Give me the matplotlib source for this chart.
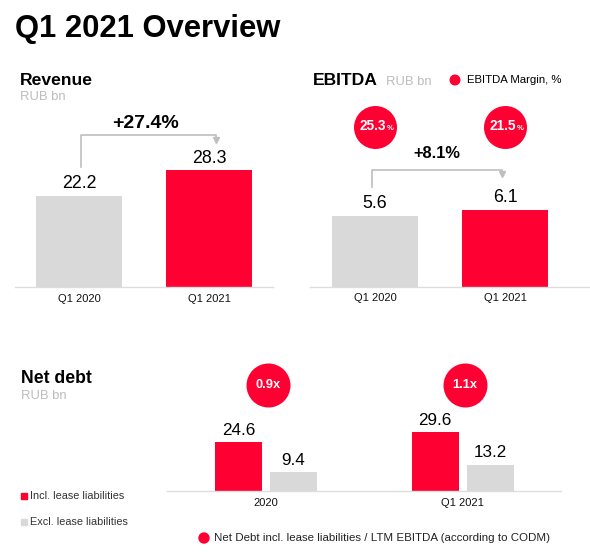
import matplotlib
matplotlib.use('Agg')
import matplotlib.pyplot as plt
import matplotlib.transforms as mtransforms

plt.rcParams['font.family'] = ['Liberation Sans', 'DejaVu Sans']

W, H = 590, 553
RED = '#FF0032'
GRAY = '#D9D9D9'
SUB = '#BDBDBD'
LINE = '#BFBFBF'
AXIS = '#DDDDDD'

# ---------------- data ----------------
rev_categories = ['Q1 2020', 'Q1 2021']
rev_values = [22.2, 28.3]
rev_growth = '+27.4%'

ebitda_categories = ['Q1 2020', 'Q1 2021']
ebitda_values = [5.6, 6.1]
ebitda_margin = ['25.3', '21.5']
ebitda_growth = '+8.1%'

debt_categories = ['2020', 'Q1 2021']
debt_incl = [24.6, 29.6]
debt_excl = [9.4, 13.2]
debt_ratio = ['0.9x', '1.1x']

# ---------------- figure ----------------
fig = plt.figure(figsize=(W / 100, H / 100), dpi=100)
P = mtransforms.Affine2D().scale(1, -1).translate(0, H)  # pixel coords, origin top-left


def off(tr, dx, dy):
    """shift transform by dx, dy pixels (dy positive = down)"""
    return tr + mtransforms.ScaledTranslation(dx / 100, -dy / 100, fig.dpi_scale_trans)


def add_axes_px(left, right, base, top):
    return fig.add_axes([left / W, 1 - base / H, (right - left) / W, (base - top) / H])


def style(ax, pad):
    for s in ['left', 'right', 'top']:
        ax.spines[s].set_visible(False)
    ax.spines['bottom'].set_color(AXIS)
    ax.spines['bottom'].set_linewidth(1.0)
    ax.set_yticks([])
    ax.tick_params(axis='x', length=0, pad=pad, labelsize=8, labelcolor='#111111')
    ax.patch.set_alpha(0)


def ftext(x, y, s, **kw):
    fig.text(x, y, s, transform=P, **kw)


# Title
ftext(15, 37, 'Q1 2021 Overview', fontsize=22.3, fontweight='bold', va='baseline', color='black')

# ---------------- Revenue ----------------
ftext(20, 85, 'Revenue', fontsize=12.6, fontweight='bold', va='baseline')
ftext(20, 100.5, 'RUB bn', fontsize=9.4, color=SUB, va='baseline')

axr = add_axes_px(15, 273, 287.3, 110)
axr.set_xlim(-0.492, 1.492)
axr.set_ylim(0, (287.3 - 110) / 4.13)
xr = list(range(len(rev_categories)))
axr.bar(xr, rev_values, width=0.66, color=[GRAY, RED])
for i, v in zip(xr, rev_values):
    axr.annotate(f'{v:.1f}', xy=(i, v), xytext=(0, 7.4 * 0.72), textcoords='offset points',
                 ha='center', va='baseline', fontsize=12.8)
axr.set_xticks(xr, rev_categories)
style(axr, 4.6)
Br = mtransforms.blended_transform_factory(axr.transData, P)
axr.plot([0.015, 0.015, 1.054, 1.054], [167, 135, 135, 139], transform=Br, color=LINE,
         lw=1.2, clip_on=False)
axr.plot([1.054], [139.5], marker='v', ms=5, color=LINE, transform=Br, clip_on=False)
axr.text(0.51, 123, rev_growth, transform=Br, ha='center', va='center',
         fontsize=14, fontweight='bold')

# ---------------- EBITDA ----------------
ftext(313, 85, 'EBITDA', fontsize=12.6, fontweight='bold', va='baseline')
ftext(386, 85, 'RUB bn', fontsize=9.4, color=SUB, va='baseline')
fig.patches.append(matplotlib.patches.Circle((455, 80), 4.8, color=RED, transform=P))
ftext(467, 80, 'EBITDA Margin, %', fontsize=8.2, va='center')

axe = add_axes_px(310, 590, 286.7, 110)
axe.set_xlim(-0.5, 1.654)
axe.set_ylim(0, (286.7 - 110) / 12.65)
xe = list(range(len(ebitda_categories)))
axe.bar(xe, ebitda_values, width=0.66, color=[GRAY, RED])
for i, v in zip(xe, ebitda_values):
    axe.annotate(f'{v:.1f}', xy=(i, v), xytext=(0, 7.4 * 0.72), textcoords='offset points',
                 ha='center', va='baseline', fontsize=12.8)
axe.set_xticks(xe, ebitda_categories)
style(axe, 4.6)
Be = mtransforms.blended_transform_factory(axe.transData, P)
axe.scatter(xe, [127] * len(xe), s=(43 * 0.72) ** 2, color=RED, transform=Be, clip_on=False,
            linewidths=0)
for i, m in zip(xe, ebitda_margin):
    axe.text(i, 127, m, transform=off(Be, -2.5, 3.5), ha='center', va='baseline',
             color='white', fontsize=9.8, fontweight='bold')
    axe.text(i, 127, '%', transform=off(Be, 12, 3.5), ha='left', va='baseline',
             color='white', fontsize=5.5, fontweight='bold')
axe.plot([-0.023, -0.023, 0.977, 0.977], [187, 170, 170, 173.5], transform=Be, color=LINE,
         lw=1.2, clip_on=False)
axe.plot([0.977], [174], marker='v', ms=5, color=LINE, transform=Be, clip_on=False)
axe.text(0.477, 153, ebitda_growth, transform=Be, ha='center', va='center',
         fontsize=11.8, fontweight='bold')

# ---------------- Net debt ----------------
ftext(21, 382.7, 'Net debt', fontsize=12.7, fontweight='bold', va='baseline')
ftext(21, 399, 'RUB bn', fontsize=9.4, color=SUB, va='baseline')

axn = add_axes_px(167, 561, 490.7, 360)
axn.set_xlim(-0.504, 1.501)
axn.set_ylim(0, (490.7 - 360) / 1.97)
xn = list(range(len(debt_categories)))
offx = 0.28
wbar = 0.239
b1 = axn.bar([x - offx / 2 for x in xn], debt_incl, width=wbar, color=RED,
             label='Incl. lease liabilities')
b2 = axn.bar([x + offx / 2 for x in xn], debt_excl, width=wbar, color=GRAY,
             label='Excl. lease liabilities')
for bars, vals in [(b1, debt_incl), (b2, debt_excl)]:
    for r, v in zip(bars, vals):
        axn.annotate(f'{v:.1f}', xy=(r.get_x() + r.get_width() / 2, v), xytext=(0, 7.2 * 0.72),
                     textcoords='offset points', ha='center', va='baseline', fontsize=12.3)
axn.set_xticks(xn, debt_categories)
style(axn, 5.0)
Bn = mtransforms.blended_transform_factory(axn.transData, P)
axn.scatter([x + 0.012 for x in xn], [385] * len(xn), s=(44 * 0.72) ** 2, color=RED,
            transform=Bn, clip_on=False, linewidths=0)
for i, t in zip(xn, debt_ratio):
    axn.text(i + 0.012, 385.5, t, transform=Bn, ha='center', va='center', color='white',
             fontsize=9.3, fontweight='bold')

# legend for net debt
fig.patches.append(matplotlib.patches.Rectangle((21, 493.2), 5.5, 6, color=RED, transform=P))
ftext(30, 496, 'Incl. lease liabilities', fontsize=7.8, va='center', color='#333333')
fig.patches.append(matplotlib.patches.Rectangle((21, 519.2), 5.5, 6, color=GRAY, transform=P))
ftext(30, 522, 'Excl. lease liabilities', fontsize=7.8, va='center', color='#333333')

fig.patches.append(matplotlib.patches.Circle((204, 538), 5, color=RED, transform=P))
ftext(214, 538, 'Net Debt incl. lease liabilities / LTM EBITDA (according to CODM)',
      fontsize=8.25, va='center', color='#222222')

fig.savefig('out.png', dpi=100)
